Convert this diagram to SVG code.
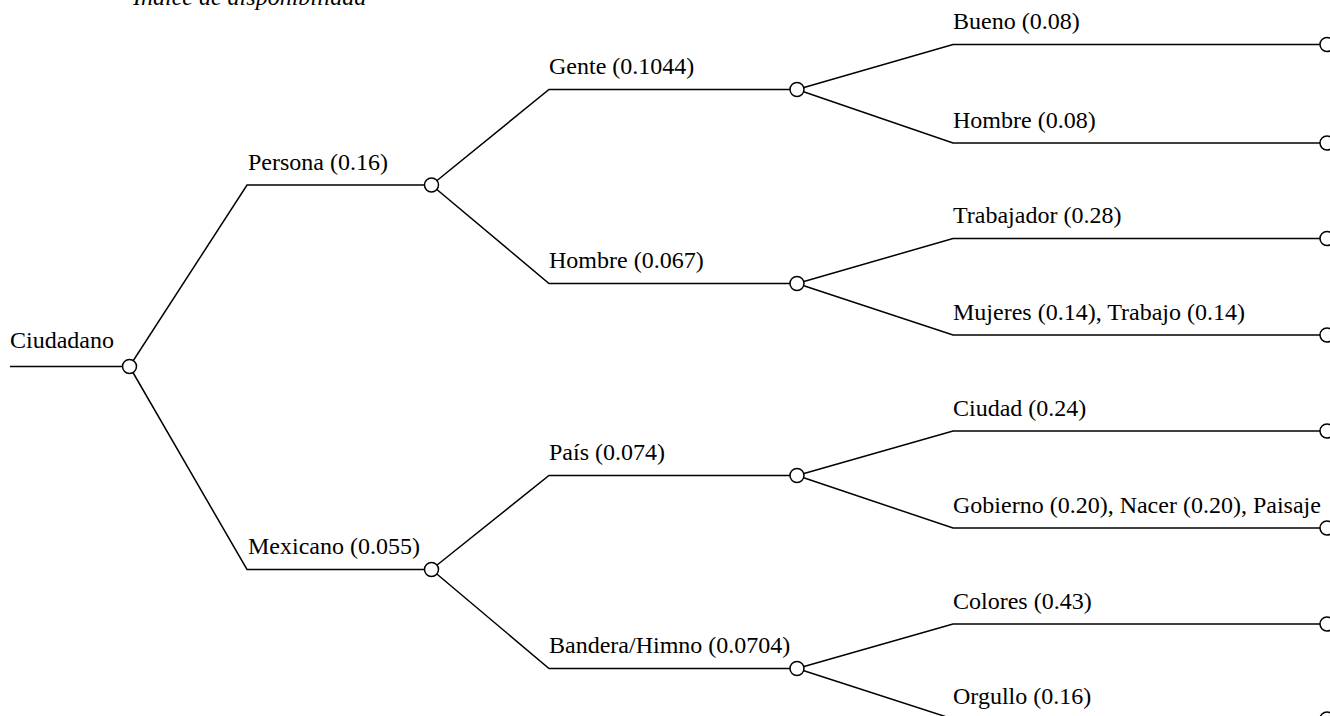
<svg xmlns="http://www.w3.org/2000/svg" width="1330" height="716" viewBox="0 0 1330 716">
<style>
.c{fill:none;stroke:#000;stroke-width:1.5}
.n{fill:#fff;stroke:#000;stroke-width:1.5}
text{font-family:"Liberation Serif","Times New Roman",serif;font-size:24px;fill:#000}
.t{font-style:italic}
</style>
<rect width="1330" height="716" fill="#fff"/>
<text class="t" x="133" y="5">Índice de disponibilidad</text>
<g id="connectors" class="c">
<path d="M10,366.5H129.5L247,185H431.5"/>
<path d="M129.5,366.5L247,569.5H431.5"/>
<path d="M431.5,185L549,89.5H797"/>
<path d="M431.5,185L549,283.5H797"/>
<path d="M431.5,569.5L549,475.5H797"/>
<path d="M431.5,569.5L549,668.5H797"/>
<path d="M797,89.5L953,44.5H1327"/>
<path d="M797,89.5L953,143H1327"/>
<path d="M797,283.5L953,238.5H1327"/>
<path d="M797,283.5L953,335H1327"/>
<path d="M797,475.5L953,431H1327"/>
<path d="M797,475.5L953,528H1327"/>
<path d="M797,668.5L953,624H1327"/>
<path d="M797,668.5L953,719H1327"/>
</g>
<g id="n0"><text x="10" y="348">Ciudadano</text><circle class="n" cx="129.5" cy="366.5" r="7"/></g>
<g id="n1"><text x="248" y="170">Persona (0.16)</text><circle class="n" cx="431.5" cy="185" r="7"/></g>
<g id="n2"><text x="248" y="554">Mexicano (0.055)</text><circle class="n" cx="431.5" cy="569.5" r="7"/></g>
<g id="n3"><text x="549" y="74">Gente (0.1044)</text><circle class="n" cx="797" cy="89.5" r="7"/></g>
<g id="n4"><text x="549" y="268">Hombre (0.067)</text><circle class="n" cx="797" cy="283.5" r="7"/></g>
<g id="n5"><text x="549" y="460">País (0.074)</text><circle class="n" cx="797" cy="475.5" r="7"/></g>
<g id="n6"><text x="549" y="653">Bandera/Himno (0.0704)</text><circle class="n" cx="797" cy="668.5" r="7"/></g>
<g id="n7"><text x="953" y="29">Bueno (0.08)</text><circle class="n" cx="1327" cy="44.5" r="7"/></g>
<g id="n8"><text x="953" y="128">Hombre (0.08)</text><circle class="n" cx="1327" cy="143" r="7"/></g>
<g id="n9"><text x="953" y="223">Trabajador (0.28)</text><circle class="n" cx="1327" cy="238.5" r="7"/></g>
<g id="n10"><text x="953" y="320">Mujeres (0.14), Trabajo (0.14)</text><circle class="n" cx="1327" cy="335" r="7"/></g>
<g id="n11"><text x="953" y="416">Ciudad (0.24)</text><circle class="n" cx="1327" cy="431" r="7"/></g>
<g id="n12"><text x="953" y="513">Gobierno (0.20), Nacer (0.20), Paisaje</text><circle class="n" cx="1327" cy="528" r="7"/></g>
<g id="n13"><text x="953" y="609">Colores (0.43)</text><circle class="n" cx="1327" cy="624" r="7"/></g>
<g id="n14"><text x="953" y="704">Orgullo (0.16)</text><circle class="n" cx="1327" cy="719" r="7"/></g>
</svg>
